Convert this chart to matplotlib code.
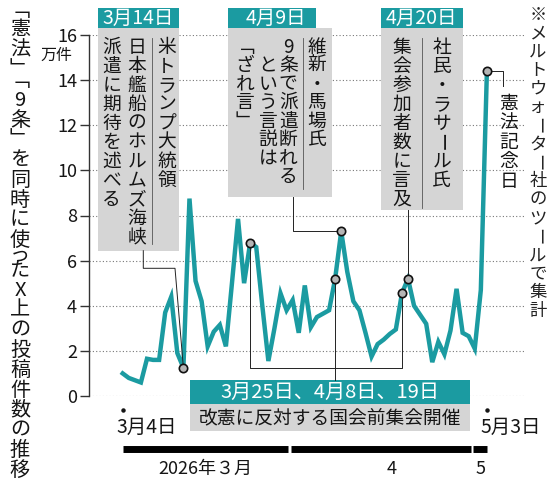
import numpy as np
import matplotlib
matplotlib.use("Agg")
import matplotlib.pyplot as plt
from matplotlib.patches import Rectangle

plt.rcParams['font.family'] = ['Noto Sans CJK JP', 'DejaVu Sans']

# daily posts using both 「憲法」 and 「9条」 on X (unit: 10k), 2026-03-04 .. 2026-05-03
posts = [1.0, 0.8, 0.7, 0.6, 1.65, 1.6, 1.6, 3.7, 4.4, 1.9, 1.25,
         8.75, 5.1, 4.2, 2.2, 2.85, 3.15, 2.2, 5.0, 7.85, 5.0,
         6.8, 6.6, 4.0, 1.55, 3.0, 4.55, 3.8,
         4.25, 2.8, 4.9, 3.05, 3.5, 3.65, 3.8, 5.2, 7.3, 5.5,
         4.2, 3.8, 2.8, 1.75, 2.3, 2.5, 2.75, 2.95, 4.55, 5.2,
         4.0, 3.6, 3.2, 1.5, 2.4, 1.85, 2.9, 4.75, 2.8, 2.65,
         2.1, 4.7, 14.4]
days = np.arange(len(posts))          # 0 = 3月4日

yticks = [0, 2, 4, 6, 8, 10, 12, 14, 16]
marked_days = [10, 21, 35, 36, 46, 47, 60]
rally_days = [21, 35, 46]              # 3/25, 4/8, 4/19
month_first = [0, 28, 58]              # first day index of Mar / Apr / May
month_last = [27, 57, 60]
month_labels = ['2026年３月', '4', '5']
month_label_pos = [13.6, 44.3, 58.9]

TEAL = '#1b9ba1'
GRAY = '#d5d5d5'
INK = '#151515'

W, H = 556, 488
fig = plt.figure(figsize=(W / 100, H / 100), dpi=100)

# main chart
ax = fig.add_axes([89 / W, 92 / H, 436 / W, 361 / H])
ax.plot(days, posts, color=TEAL, lw=3.2, solid_joinstyle='miter', zorder=3, clip_on=False)
ax.set_xlim((89 - 122.7) / 6.07, (525 - 122.7) / 6.07)
ax.set_ylim(0, 16)
ax.set_yticks(yticks)
ax.set_xticks([])
for s in ['top', 'right', 'bottom']:
    ax.spines[s].set_visible(False)
ax.spines['left'].set_color('#333333')
ax.spines['left'].set_linewidth(1.0)
ax.tick_params(axis='y', length=6.5, width=1.0, pad=2.2, labelsize=13, color='#333333', labelcolor=INK)
ax.grid(axis='y', color='#777777', ls=(0, (1, 2)), lw=0.8)
ax.set_axisbelow(True)
ax.patch.set_visible(False)

# overlay in pixel coords for the annotations
ov = fig.add_axes([0, 0, 1, 1], zorder=5)
ov.set_xlim(0, W)
ov.set_ylim(H, 0)
ov.axis('off')


def px(d, v):
    x, y = ax.transData.transform((d, v))
    return x, H - y


def box(x0, x1, y0, y1, color):
    ov.add_patch(Rectangle((x0, y0), x1 - x0, y1 - y0, fc=color, ec='none', zorder=2))


VERT = {'「': '\ufe41', '」': '\ufe42'}


def vtext(x, y0, s, size=13.5, step=19, color=INK, half=()):
    # vertical japanese text, one glyph per cell
    y = y0
    for i, ch in enumerate(s):
        a = step * (0.5 if i in half else 1)
        rot = 0
        cy = y + a / 2
        if ch == '「' and i in half:
            cy = y
        if ch == 'ー':
            rot = -90
        ov.text(x, cy, VERT.get(ch, ch), ha='center', va='center', rotation=rot,
                fontsize=size, color=color, zorder=4)
        y += a


def leader(points):
    xs, ys = zip(*points)
    ov.plot(xs, ys, color='#222222', lw=0.7, zorder=3)


# y label and unit
vtext(20, 0, '「憲法」「9条」を同時に使ったX上の投稿件数の推移', size=14.5, step=20, half=(4, 13))
ov.text(72, 55, '万件', ha='right', va='center', fontsize=11.5, color=INK)

# box 1 : 3月14日
box(97.7, 179, 8, 28, TEAL)
ov.text(138.3, 18, '3月14日', ha='center', va='center', fontsize=14, color='white', zorder=4)
box(97.7, 179, 28, 250.7, GRAY)
vtext(166.7, 38, '米トランプ大統領')
ov.plot([151.7, 151.7], [38, 244], color='#555555', lw=0.6, zorder=3)
vtext(136.7, 38, '日本艦船のホルムズ海峡')
vtext(111.7, 38, '派遣に期待を述べる')
mx, my = px(10, posts[10])
leader([(143.3, 250.7), (143.3, 268.3), (175, 268.3), (mx, my)])

# box 2 : 4月9日
box(228, 316, 8, 28, TEAL)
ov.text(276, 18, '4月9日', ha='center', va='center', fontsize=14, color='white', zorder=4)
box(228, 332, 28, 197, GRAY)
vtext(317, 38, '維新・馬場氏', step=18.5)
ov.plot([302.5, 302.5], [38, 189], color='#555555', lw=0.6, zorder=3)
vtext(288.3, 38, '9条で派遣断れる', step=18.5)
vtext(268, 56.5, 'という言説は', step=18.5)
vtext(245, 38, '「ざれ言」', step=18.5)
mx, my = px(36, posts[36])
leader([(292.7, 197), (292.7, my), (mx, my)])

# box 3 : 4月20日
box(381, 462.7, 8, 28, TEAL)
ov.text(421.8, 18, '4月20日', ha='center', va='center', fontsize=14, color='white', zorder=4)
box(381, 462.7, 28, 210, GRAY)
vtext(441.7, 38, '社民・ラサール氏')
ov.plot([421.7, 421.7], [38, 208], color='#555555', lw=0.6, zorder=3)
vtext(401.7, 38, '集会参加者数に言及')
mx, my = px(47, posts[47])
leader([(mx, 210), (mx, my)])

# rally box at the bottom
box(190, 470, 380, 404, TEAL)
ov.text(330, 392, '3月25日、4月8日、19日', ha='center', va='center', fontsize=14.5,
        color='white', zorder=4)
box(190, 470, 404, 430.5, GRAY)
ov.text(330, 417.5, '改憲に反対する国会前集会開催', ha='center', va='center', fontsize=13.5,
        color=INK, zorder=4)
a_x, a_y = px(rally_days[0], posts[rally_days[0]])
c_x, c_y = px(rally_days[2], posts[rally_days[2]])
b_x, b_y = px(rally_days[1], posts[rally_days[1]])
leader([(a_x, a_y), (a_x, 368.3), (c_x, 368.3), (c_x, c_y)])
leader([(b_x, b_y), (b_x, 380)])

# 憲法記念日
mx, my = px(60, posts[60])
leader([(mx, my), (503, my), (503, 86)])
vtext(509, 93.5, '憲法記念日', size=13.5, step=19.5)

# source note
vtext(538, 5.5, '※メルトウォーター社のツールで集計', size=12.5, step=18.5, color='#222222')

# circles on the line
for d in marked_days:
    x, y = px(d, posts[d])
    ov.plot(x, y, 'o', ms=6, mfc='#b5b5b5', mec='#111111', mew=1.2, zorder=6)

# first / last date
for d, lab in [(0, '3月4日'), (60, '5月3日')]:
    x, _ = px(d, 0)
    ov.plot(x, 410, 'o', ms=2.2, color=INK, zorder=4)
    ov.text(x - 6.5, 427.5, lab, ha='left', va='center', fontsize=14, color=INK)

# month bars
for i, (s, e) in enumerate(zip(month_first, month_last)):
    x0 = px(s - 0.5 + 0.2 if s > 0 else s, 0)[0]
    x1 = px(e + 0.5 - 0.2 if e < days[-1] else e, 0)[0]
    ov.plot([x0, x1], [449.3, 449.3], color='black', lw=5, solid_capstyle='butt')
    ov.text(px(month_label_pos[i], 0)[0], 468.5, month_labels[i], ha='center', va='center',
            fontsize=13, color=INK)

fig.savefig('out.png', dpi=100)
